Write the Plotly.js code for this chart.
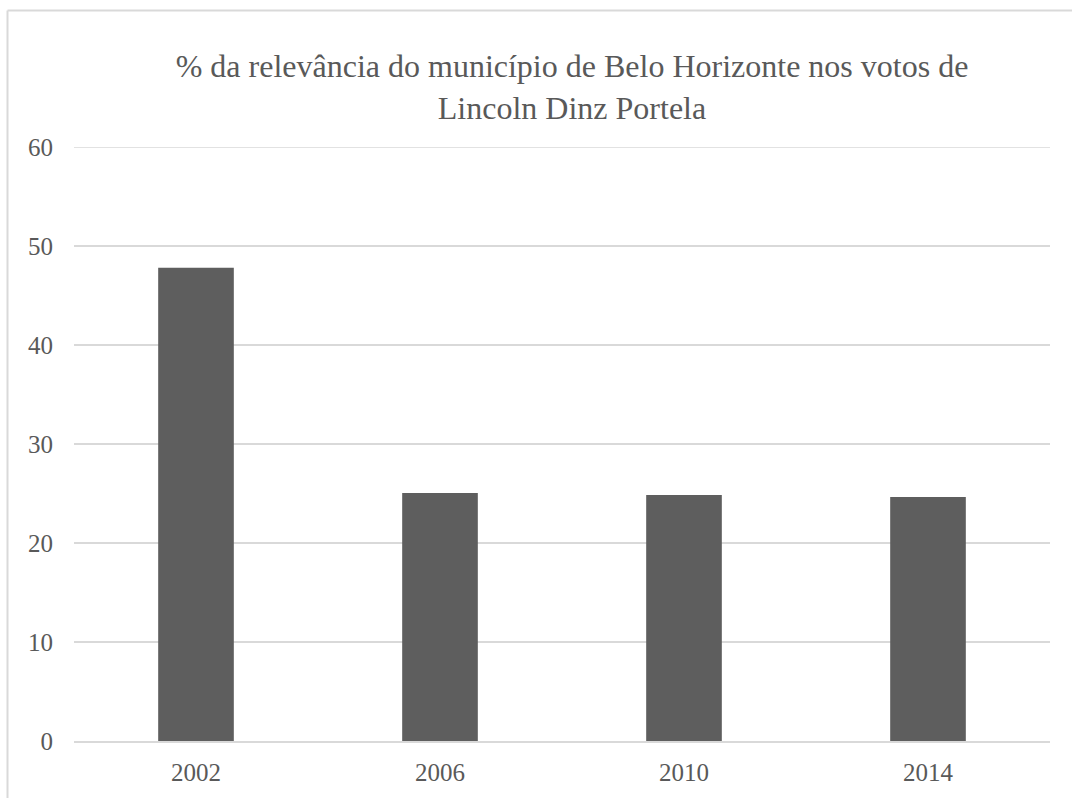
<!DOCTYPE html>
<html>
<head>
<meta charset="utf-8">
<script src="https://cdn.plot.ly/plotly-3.0.1.min.js"></script>
</head>
<body style="margin:0">
<div id="chart"></div>
<script>
const years = ["2002", "2006", "2010", "2014"];
const values = [47.8, 25.05, 24.85, 24.65];
const titleText = "% da relevância do município de Belo Horizonte nos votos de<br>Lincoln Dinz Portela";
const yTicks = [0, 10, 20, 30, 40, 50, 60];

(function () {
  var Wd = 1072, Ht = 798;
  var mL = 74, mR = 22, mT = 147, mB = 57;
  var pw = Wd - mL - mR, ph = Ht - mT - mB;
  function toX(v) { return (v - mL) / pw; }
  function toY(v) { return (Ht - mB - v) / ph; }
  var fam = "Times New Roman";
  var txt = "#595959";
  var grid = "#d9d9d9";

  var data = [{
    type: "bar",
    x: years,
    y: values,
    marker: {color: "#5e5e5e"}
  }];

  var layout = {
    width: Wd, height: Ht,
    margin: {l: mL, r: mR, t: mT, b: mB, pad: 0},
    paper_bgcolor: "#ffffff",
    plot_bgcolor: "#ffffff",
    bargap: 0.69,
    showlegend: false,
    font: {family: fam, size: 25, color: txt},
    title: {
      text: titleText,
      font: {family: fam, size: 32},
      x: 547 / Wd, xanchor: "center",
      y: 1 - 77 / Ht, yanchor: "middle",
      xref: "paper", yref: "container"
    },
    xaxis: {
      type: "category",
      showgrid: false,
      showline: true, linecolor: grid, linewidth: 2,
      ticks: "",
      ticklabelstandoff: 8,
      tickfont: {family: fam, size: 25}
    },
    yaxis: {
      range: [0, 60],
      tickvals: yTicks,
      showgrid: true, gridcolor: grid, gridwidth: 1.5,
      zeroline: false, showline: false,
      ticks: "",
      ticklabelstandoff: 20,
      tickfont: {family: fam, size: 25}
    },
    shapes: [
      {type: "line", xref: "paper", yref: "y", x0: 0, x1: 1, y0: 60, y1: 60, line: {color: grid, width: 1.5}, layer: "below"},
      {type: "line", xref: "paper", yref: "paper", x0: toX(7.5), x1: toX(7.5), y0: toY(800), y1: toY(10.5), line: {color: grid, width: 2}},
      {type: "line", xref: "paper", yref: "paper", x0: toX(7.5), x1: toX(1080), y0: toY(10.5), y1: toY(10.5), line: {color: grid, width: 2}}
    ]
  };

  Plotly.newPlot("chart", data, layout, {displayModeBar: false});
})();
</script>
</body>
</html>
